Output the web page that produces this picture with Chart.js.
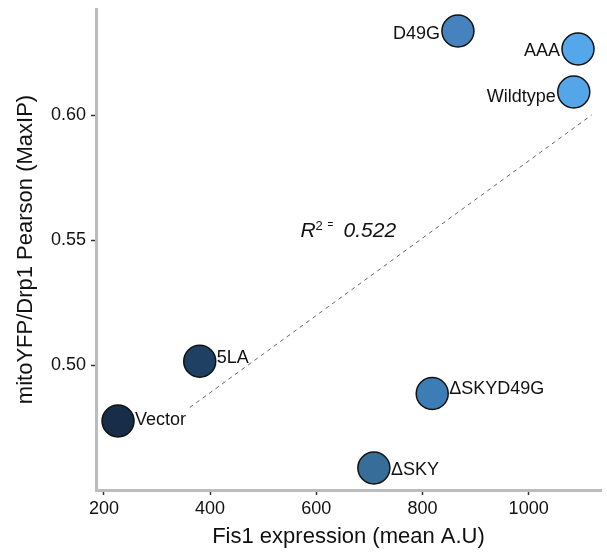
<!DOCTYPE html>
<html>
<head>
<meta charset="utf-8">
<script src="https://cdn.jsdelivr.net/npm/chart.js@4.4.1/dist/chart.umd.min.js"></script>
<style>
    html, body { margin: 0; padding: 0; background: #fff; }
    #wrap { width: 607px; height: 554px; }
</style>
</head>
<body>
<div id="wrap"><canvas id="chart" width="607" height="554"></canvas></div>
<script>
// data
const names = ['Vector', '5LA', '\u0394SKY', '\u0394SKYD49G', 'D49G', 'AAA', 'Wildtype'];
const fis1 = [226.6, 380.5, 708.5, 818.4, 866.8, 1093, 1085];
const pearson = [0.4777, 0.5016, 0.4589, 0.4887, 0.6337, 0.6265, 0.6093];
const pointColors = ['#172d48', '#1f4063', '#376d99', '#3c7db6', '#4682bd', '#55a7eb', '#55a6e9'];
const labelSide = ['right', 'right', 'right', 'right', 'left', 'left', 'left'];
const labelDy = [-3, -5, 0, -6, 1, 0, 3];

const fitX = [361.7, 1118.8];
const fitY = [0.4831, 0.6001];
const r2Text = '0.522';
const r2Pos = { x: 570.3, y: 0.5513 };

const xTicks = [200, 400, 600, 800, 1000];
const yTicks = [0.50, 0.55, 0.60];

const FONT = '"Liberation Sans", Arial, Helvetica, sans-serif';
const textColor = '#111111';
const axisGrey = '#bcbcbc';

const pointLabels = {
    id: 'pointLabels',
    afterDatasetsDraw(chart) {
        const ctx = chart.ctx;
        const meta = chart.getDatasetMeta(1);
        ctx.save();
        ctx.font = '18px ' + FONT;
        ctx.fillStyle = textColor;
        ctx.textBaseline = 'alphabetic';
        meta.data.forEach((pt, i) => {
            const y = pt.y + labelDy[i] + 6.5;
            if (labelSide[i] === 'right') {
                ctx.textAlign = 'left';
                ctx.fillText(names[i], pt.x + 17, y);
            } else {
                ctx.textAlign = 'right';
                ctx.fillText(names[i], pt.x - 18, y);
            }
        });

        // R squared annotation
        const ax = chart.scales.x.getPixelForValue(r2Pos.x);
        const ay = chart.scales.y.getPixelForValue(r2Pos.y);
        ctx.textAlign = 'left';
        ctx.font = 'italic 21px ' + FONT;
        ctx.fillText('R', ax, ay);
        ctx.font = '13px ' + FONT;
        ctx.fillText('2', ax + 15, ay - 7);
        ctx.font = '10px ' + FONT;
        ctx.fillText('=', ax + 27, ay - 9);
        ctx.font = 'italic 21px ' + FONT;
        ctx.fillText(r2Text, ax + 43, ay);
        ctx.restore();
    }
};

new Chart(document.getElementById('chart'), {
    type: 'scatter',
    data: {
        datasets: [
            {
                type: 'line',
                data: fitX.map((x, i) => ({ x, y: fitY[i] })),
                borderColor: '#666666',
                borderWidth: 1,
                borderDash: [4, 4],
                pointRadius: 0,
                fill: false
            },
            {
                data: fis1.map((x, i) => ({ x, y: pearson[i] })),
                backgroundColor: pointColors,
                borderColor: '#111111',
                borderWidth: 1.5,
                pointRadius: 16,
                pointHoverRadius: 16
            }
        ]
    },
    options: {
        responsive: false,
        animation: false,
        events: [],
        layout: { autoPadding: false, padding: { top: 9, right: 6, left: 0, bottom: 0 } },
        plugins: {
            legend: { display: false },
            tooltip: { enabled: false }
        },
        scales: {
            x: {
                type: 'linear',
                min: 185.1,
                max: 1136.3,
                afterBuildTicks: s => { s.ticks = xTicks.map(v => ({ value: v })); },
                afterFit: s => { s.height = 64; s.paddingLeft = 0; s.paddingRight = 0; },
                ticks: {
                    color: textColor,
                    font: { family: FONT, size: 18 },
                    padding: 3,
                    callback: v => String(v)
                },
                grid: {
                    drawOnChartArea: false,
                    drawTicks: true,
                    tickLength: 5,
                    tickColor: '#333',
                    tickWidth: 1.5
                },
                border: { color: axisGrey, width: 3 },
                title: {
                    display: true,
                    text: 'Fis1 expression (mean A.U)',
                    color: textColor,
                    font: { family: FONT, size: 22 },
                    padding: { top: 0, bottom: 4 }
                }
            },
            y: {
                type: 'linear',
                min: 0.4501,
                max: 0.6425,
                afterBuildTicks: s => { s.ticks = yTicks.map(v => ({ value: v })); },
                afterFit: s => { s.width = 96; s.paddingTop = 0; s.paddingBottom = 0; },
                ticks: {
                    color: textColor,
                    font: { family: FONT, size: 18 },
                    padding: 5,
                    callback: v => Number(v).toFixed(2)
                },
                grid: {
                    drawOnChartArea: false,
                    drawTicks: true,
                    tickLength: 5,
                    tickColor: '#333',
                    tickWidth: 1.5
                },
                border: { color: axisGrey, width: 3 },
                title: {
                    display: true,
                    text: 'mitoYFP/Drp1 Pearson (MaxIP)',
                    color: textColor,
                    font: { family: FONT, size: 22 },
                    padding: { top: 13, bottom: 0 }
                }
            }
        }
    },
    plugins: [pointLabels]
});
</script>
</body>
</html>
